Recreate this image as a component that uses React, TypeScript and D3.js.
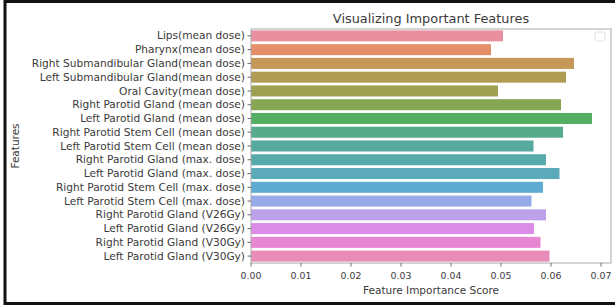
import React from "react";
import * as d3 from "d3";

const W = 615;
const H = 306;
const MARGIN = { LEFT: 251, RIGHT: 4, TOP: 29, BOTTOM: 43 };
const PLOT_W = W - MARGIN.LEFT - MARGIN.RIGHT;
const PLOT_H = H - MARGIN.TOP - MARGIN.BOTTOM;

const features = [
  "Lips(mean dose)",
  "Pharynx(mean dose)",
  "Right Submandibular Gland(mean dose)",
  "Left Submandibular Gland(mean dose)",
  "Oral Cavity(mean dose)",
  "Right Parotid Gland (mean dose)",
  "Left Parotid Gland (mean dose)",
  "Right Parotid Stem Cell (mean dose)",
  "Left Parotid Stem Cell (mean dose)",
  "Right Parotid Gland (max. dose)",
  "Left Parotid Gland (max. dose)",
  "Right Parotid Stem Cell (max. dose)",
  "Left Parotid Stem Cell (max. dose)",
  "Right Parotid Gland (V26Gy)",
  "Left Parotid Gland (V26Gy)",
  "Right Parotid Gland (V30Gy)",
  "Left Parotid Gland (V30Gy)",
];
const scores = [
  0.0504, 0.048, 0.0646, 0.063, 0.0494, 0.062, 0.0682, 0.0624, 0.0565,
  0.059, 0.0617, 0.0584, 0.0561, 0.059, 0.0566, 0.0579, 0.0597,
];
const xTicks = [0, 0.01, 0.02, 0.03, 0.04, 0.05, 0.06, 0.07];

// husl -> rgb (same maths as seaborn's husl module)
const M = [
  [3.240969941904521, -1.537383177570093, -0.498610760293],
  [-0.96924363628087, 1.87596750150772, 0.041555057407175],
  [0.055630079696993, -0.20397695888897, 1.056971514242878],
];
const KAPPA = 903.2962962;
const EPS = 0.0088564516;
function maxChroma(L: number, h: number) {
  const hr = (h / 360) * Math.PI * 2;
  const sub1 = Math.pow(L + 16, 3) / 1560896;
  const sub2 = sub1 > EPS ? sub1 : L / KAPPA;
  let best = Infinity;
  for (const [m1, m2, m3] of M) {
    for (const t of [0, 1]) {
      const top1 = (284517 * m1 - 94839 * m3) * sub2;
      const top2 = (838422 * m3 + 769860 * m2 + 731718 * m1) * L * sub2 - 769860 * t * L;
      const bottom = (632260 * m3 - 126452 * m2) * sub2 + 126452 * t;
      const len = top2 / bottom / (Math.sin(hr) - (top1 / bottom) * Math.cos(hr));
      if (len >= 0) best = Math.min(best, len);
    }
  }
  return best;
}
function husl(h: number, s: number, l: number) {
  const C = (maxChroma(l, h) / 100) * s;
  const hr = (h / 360) * Math.PI * 2;
  const U = C * Math.cos(hr);
  const V = C * Math.sin(hr);
  const Y = l > 8 ? Math.pow((l + 16) / 116, 3) : l / KAPPA;
  const vu = U / (13 * l) + 0.19783000664283;
  const vv = V / (13 * l) + 0.46831999493879;
  const X = 0 - (9 * Y * vu) / ((vu - 4) * vv - vu * vv);
  const Z = (9 * Y - 15 * vv * Y - vv * X) / (3 * vv);
  const rgb = M.map((r) => {
    const c = r[0] * X + r[1] * Y + r[2] * Z;
    const g = c <= 0.0031308 ? 12.92 * c : 1.055 * Math.pow(c, 1 / 2.4) - 0.055;
    return Math.max(0, Math.min(1, g)) * 255;
  });
  const col = d3.hsl(d3.rgb(rgb[0], rgb[1], rgb[2]));
  col.s *= 0.75; // seaborn barplot desaturation
  // the screenshot is a bit washed out
  return d3.interpolateRgb(col.formatHex(), "#ffffff")(0.1);
}
const colors = features.map((_, i) => husl((i / features.length) * 360 + 3.6, 90, 65));

export default function App() {
  const x = d3.scaleLinear().domain([0, 0.072]).range([0, PLOT_W]);
  const y = d3.scaleBand().domain(features).range([0, PLOT_H]).paddingInner(0.2).paddingOuter(0.1);
  const font = "DejaVu Sans, sans-serif";

  return (
    <svg
      width={W}
      height={H}
      style={{ position: "absolute", left: 0, top: 0, background: "#fff" }}
      fontFamily={font}
    >
      <rect x={5} y={1.5} width={W + 10} height={H - 4} fill="none" stroke="#111" strokeWidth={3} />
      <g transform={`translate(${MARGIN.LEFT},${MARGIN.TOP})`}>
        {features.map((f, i) => (
          <rect
            key={f}
            x={0}
            y={y(f)}
            width={x(scores[i])}
            height={y.bandwidth()}
            fill={colors[i]}
          />
        ))}
        <rect x={0} y={0} width={PLOT_W} height={PLOT_H} fill="none" stroke="#aaa" strokeWidth={1} />
        <rect x={PLOT_W - 16} y={3} width={10} height={9} rx={2} fill="none" stroke="#e2e2e2" />
        {features.map((f) => (
          <g key={f} transform={`translate(0,${y(f)! + y.bandwidth() / 2})`}>
            <line x1={-3.5} x2={0} stroke="#444" strokeWidth={0.8} />
            <text x={-6} dy="0.34em" textAnchor="end" fontSize={10.6} fill="#3a3a3a">
              {f}
            </text>
          </g>
        ))}
        {xTicks.map((t) => (
          <g key={t} transform={`translate(${x(t)},${PLOT_H})`}>
            <line y1={0} y2={3.5} stroke="#444" strokeWidth={0.8} />
            <text y={16} textAnchor="middle" fontSize={9.4} fill="#3a3a3a">
              {t.toFixed(2)}
            </text>
          </g>
        ))}
        <text x={PLOT_W / 2} y={PLOT_H + 31} textAnchor="middle" fontSize={10.5} fill="#3a3a3a">
          Feature Importance Score
        </text>
        <text
          transform={`translate(${19 - MARGIN.LEFT},${PLOT_H / 2}) rotate(-90)`}
          textAnchor="middle"
          fontSize={10.5}
          fill="#3a3a3a"
        >
          Features
        </text>
        <text x={PLOT_W / 2} y={-6} textAnchor="middle" fontSize={12.9} fill="#3a3a3a">
          Visualizing Important Features
        </text>
      </g>
    </svg>
  );
}
